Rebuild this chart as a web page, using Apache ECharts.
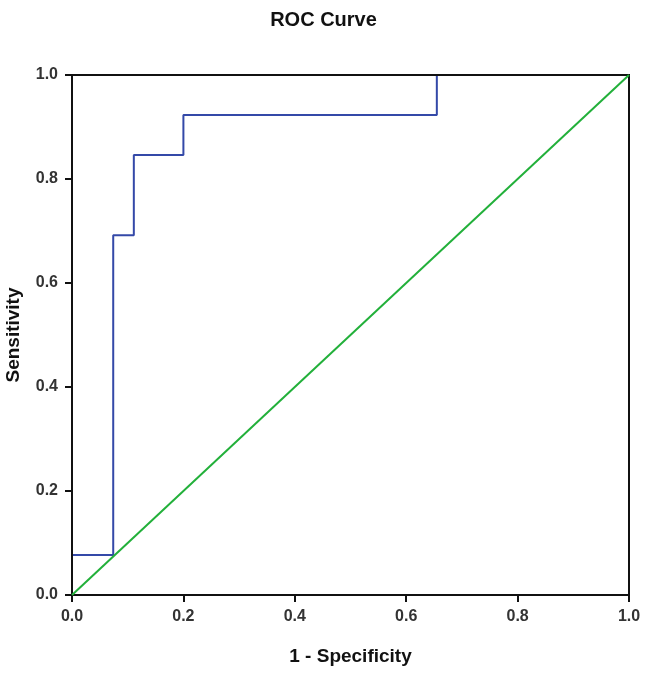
<!DOCTYPE html>
<html>
<head>
<meta charset="utf-8">
<script src="https://cdn.jsdelivr.net/npm/echarts@6/dist/echarts.min.js"></script>
<style>
  html, body { margin: 0; padding: 0; background: #fff; }
  #main { width: 647px; height: 673px; }
</style>
</head>
<body>
<div id="main"></div>
<script>
// ROC step curve (1 - specificity, sensitivity)
var fpr = [0, 0, 0.074, 0.074, 0.111, 0.111, 0.2, 0.2, 0.655, 0.655, 1.0];
var tpr = [0, 0.077, 0.077, 0.692, 0.692, 0.846, 0.846, 0.923, 0.923, 1.0, 1.0];
// reference diagonal
var refX = [0, 1];
var refY = [0, 1];
var tickLabels = ['0.0', '0.2', '0.4', '0.6', '0.8', '1.0'];

var chart = echarts.init(document.getElementById('main'));

var font = 'Liberation Sans, Arial';
var labelStyle = {
  color: '#333', fontSize: 16, fontWeight: 'bold', fontFamily: font,
  formatter: function (v) { return tickLabels[Math.round(v * 5)]; }
};
var nameStyle = { fontSize: 19, fontWeight: 'bold', color: '#111', fontFamily: font };

var option = {
  backgroundColor: '#fff',
  animation: false,
  title: {
    text: 'ROC Curve',
    left: 'center',
    top: 5,
    textStyle: { fontSize: 20, fontWeight: 'bold', color: '#111', fontFamily: font }
  },
  grid: {
    left: 72, right: 18, top: 75, bottom: 78,
    outerBoundsMode: 'none',
    // transparent so the curve can sit under the frame like in the original
    show: true, borderColor: '#111', borderWidth: 2, backgroundColor: 'transparent'
  },
  xAxis: {
    type: 'value', min: 0, max: 1, interval: 0.2,
    name: '1 - Specificity', nameLocation: 'middle', nameGap: 52,
    nameTextStyle: nameStyle,
    axisLine: { lineStyle: { color: '#111', width: 2 } },
    axisTick: { show: true, length: 7, lineStyle: { color: '#111', width: 2 } },
    axisLabel: Object.assign({ margin: 14 }, labelStyle),
    splitLine: { show: false }
  },
  yAxis: {
    type: 'value', min: 0, max: 1, interval: 0.2,
    name: 'Sensitivity', nameLocation: 'middle', nameGap: 49,
    nameTextStyle: nameStyle,
    axisLine: { lineStyle: { color: '#111', width: 2 } },
    axisTick: { show: true, length: 7, lineStyle: { color: '#111', width: 2 } },
    axisLabel: Object.assign({ margin: 14 }, labelStyle),
    splitLine: { show: false }
  },
  series: [
    {
      type: 'line',
      data: refX.map(function (x, i) { return [x, refY[i]]; }),
      showSymbol: false,
      lineStyle: { color: '#22b03a', width: 2 },
      z: 2
    },
    {
      type: 'line',
      data: fpr.map(function (x, i) { return [x, tpr[i]]; }),
      showSymbol: false,
      lineStyle: { color: '#3449a8', width: 2 },
      z: -1
    }
  ]
};

chart.setOption(option);
</script>
</body>
</html>
